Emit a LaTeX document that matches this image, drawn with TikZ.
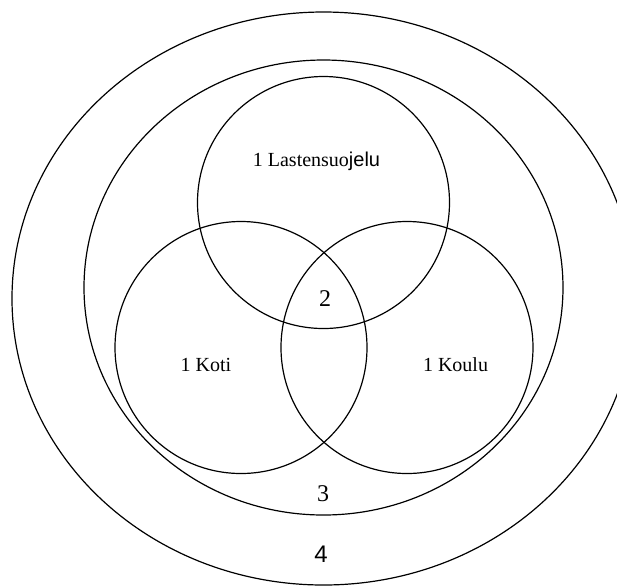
\documentclass[tikz,border=0pt]{standalone}
\usepackage{fontspec}
\setmainfont{Liberation Serif}
\newfontfamily\armfont{Liberation Sans}
\definecolor{inkblack}{RGB}{0,0,0}
\definecolor{pagewhite}{RGB}{255,255,255}
\tikzset{
    ring/.style={draw=inkblack, line width=0.6pt},
    setlabel/.style={color=inkblack, font=\fontsize{10}{12}\selectfont, inner sep=0pt},
    levellabel/.style={color=inkblack, font=\fontsize{12}{14}\selectfont, inner sep=0pt}
}

\begin{document}
\begin{tikzpicture}[x=0.5pt, y=-0.5pt]

    % 0. Canvas
    \fill[pagewhite] (0,0) rectangle (617,586);
    \useasboundingbox (0,0) rectangle (617,586);
    \clip (0,0) rectangle (617,586);

    % 1. Centres of the rings and circles
    \coordinate (outer) at (323.5,298.5);
    \coordinate (middle) at (323.5,287.5);
    \coordinate (suojelu) at (323.5,202.5);
    \coordinate (koti) at (241,347.5);
    \coordinate (koulu) at (407,347.5);

    % 2. Outer rings (levels 4 and 3)
    \draw[ring] (outer) ellipse [x radius=311.5, y radius=286.5];
    \draw[ring] (middle) ellipse [x radius=239.5, y radius=227.5];

    % 3. The three overlapping circles
    \foreach \c in {suojelu, koti, koulu} {
        \draw[ring] (\c) circle (126);
    }

    % 4. Labels
    \node[setlabel] (lsuojelu) at (316.5,161) {1 Lastensuo{\armfont jelu}};
    \node[setlabel] (lkoti) at (206,365) {1 Koti};
    \node[setlabel] (lkoulu) at (455.5,365) {1 Koulu};
    \node[levellabel] (ltwo) at (325,299) {2};
    \node[levellabel] (lthree) at (323,494) {3};
    \node[levellabel] (lfour) at (321,554) {\armfont 4};

\end{tikzpicture}
\end{document}
